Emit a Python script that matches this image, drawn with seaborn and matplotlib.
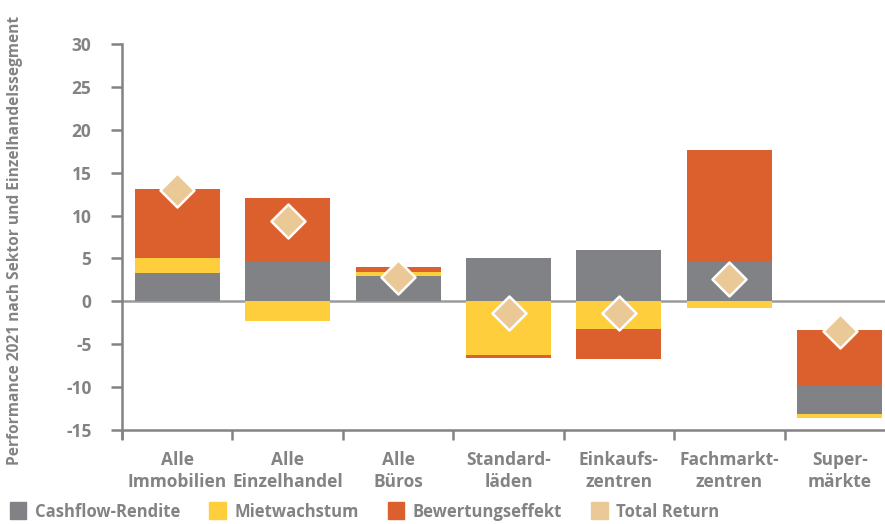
import numpy as np
import pandas as pd
import seaborn as sns
import matplotlib.pyplot as plt
from matplotlib.patches import Patch

# ~ Werte
kategorien = ["Alle\nImmobilien", "Alle\nEinzelhandel", "Alle\nBüros", "Standard-\nläden",
              "Einkaufs-\nzentren", "Fachmarkt-\nzentren", "Super-\nmärkte"]
cashflow = [3.3, 4.6, 3.0, 5.0, 5.95, 4.55, -3.25]
mietwachstum = [1.7, -2.3, 0.45, -6.3, -3.25, -0.75, -0.45]
bewertung = [8.1, 7.4, 0.5, -0.3, -3.45, 13.05, -6.5]
total_return = [13.0, 9.4, 2.8, -1.4, -1.4, 2.6, -3.5]
startwert = [0, 0, 0, 0, 0, 0, -3.4]
reihenfolge = [["cf", "mw", "bw"]] * 6 + [["bw", "cf", "mw"]]

serien = {"cf": cashflow, "mw": mietwachstum, "bw": bewertung}
namen = {"cf": "Cashflow-Rendite", "mw": "Mietwachstum", "bw": "Bewertungseffekt"}
farben = {"cf": "#818286", "mw": "#FFCE3D", "bw": "#DC602D"}
tr_farbe = "#EBC996"
grau = "#838385"

# ~ bottoms fuer gestapelte Balken
bottoms = {k: [0.0] * len(kategorien) for k in serien}
for i in range(len(kategorien)):
    pos = startwert[i]
    neg = startwert[i]
    for k in reihenfolge[i]:
        v = serien[k][i]
        if v >= 0:
            bottoms[k][i] = pos
            pos += v
        else:
            bottoms[k][i] = neg
            neg += v

sns.set_theme(style="white")
plt.rcParams['font.family'] = ['Open Sans', 'DejaVu Sans']
plt.rcParams['font.weight'] = 'bold'
plt.rcParams['axes.unicode_minus'] = False

fig = plt.figure(figsize=(8.85, 5.24), dpi=100)
ax = fig.add_axes([122 / 885, (524 - 430) / 524, 773 / 885, 386 / 524])

ax.axhline(0, color="#9a9a9c", lw=1.8, zorder=0)

for k in ["cf", "mw", "bw"]:
    df = pd.DataFrame({"kat": kategorien, "wert": serien[k]})
    sns.barplot(data=df, x="kat", y="wert", bottom=bottoms[k], color=farben[k],
                saturation=1, width=0.77, ax=ax, linewidth=0, zorder=2)

df_tr = pd.DataFrame({"kat": kategorien, "wert": total_return})
sns.scatterplot(data=df_tr, x="kat", y="wert", marker="D", s=300, color=tr_farbe,
                edgecolor="white", linewidth=1.8, ax=ax, zorder=4, legend=False)

ax.set_xlim(-0.5, 6.5)
ax.set_ylim(-15, 30)
ax.set_yticks(np.arange(-15, 31, 5))
ax.set_xticks(np.arange(-0.5, 6.6, 1), minor=True)
ax.tick_params(axis="x", which="major", length=0, pad=15, labelsize=12.5, labelcolor=grau)
ax.tick_params(axis="x", which="minor", length=7, width=1.8, color=grau, direction="out", bottom=True)
ax.tick_params(axis="y", length=8, width=1.8, color=grau, direction="out", left=True,
               labelsize=12.5, labelcolor=grau, pad=14)
for lab in ax.get_xticklabels() + ax.get_yticklabels():
    lab.set_fontweight("bold")
    lab.set_linespacing(1.3)
ax.set_xlabel("")
ax.set_ylabel("")
for s in ["top", "right"]:
    ax.spines[s].set_visible(False)
for s in ["left", "bottom"]:
    ax.spines[s].set_color(grau)
    ax.spines[s].set_linewidth(1.8)
ax.spines["left"].set_bounds(-15.9, 30)

fig.text(15 / 885, 1 - 240 / 524, "Performance 2021 nach Sektor und Einzelhandelssegment",
         rotation=90, ha="center", va="center", fontsize=11.2, fontweight="bold", color=grau)

handles = [Patch(color=farben[k], label=namen[k]) for k in ["cf", "mw", "bw"]]
handles.append(Patch(color=tr_farbe, label="Total Return"))
fig.legend(handles=handles, loc="lower left", bbox_to_anchor=(-0.006, -0.022), ncol=4,
           frameon=False, handlelength=1.0, handleheight=1.2, handletextpad=0.5,
           columnspacing=1.75, prop={"size": 12, "weight": "bold"}, labelcolor=grau)

plt.savefig("out.png", dpi=100)
